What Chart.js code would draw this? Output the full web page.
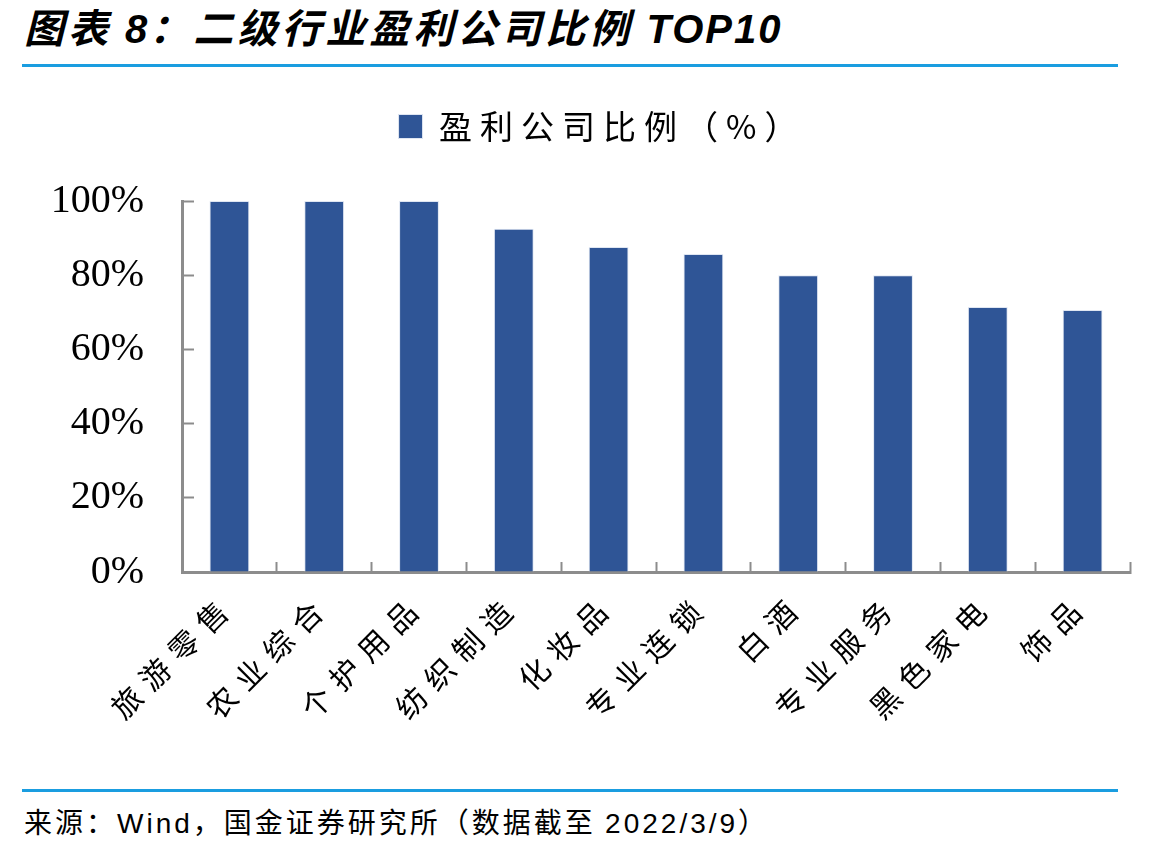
<!DOCTYPE html>
<html>
<head>
<meta charset="utf-8">
<script src="https://cdn.jsdelivr.net/npm/chart.js@4.4.1/dist/chart.umd.min.js"></script>
<style>
  body { margin: 0; background: #fff; width: 1169px; height: 850px; position: relative; overflow: hidden; }
  #title { position: absolute; left: 24px; top: -3px; font: italic bold 40px 'Noto Sans CJK SC', 'Liberation Sans', sans-serif; letter-spacing: 4px; color: #000; white-space: nowrap; }
  #title .en { font-family: 'Liberation Sans', Arial, sans-serif; letter-spacing: 2px; }
  .rule { position: absolute; left: 22px; width: 1096px; height: 3px; background: #1a9de0; }
  #source { position: absolute; left: 24px; top: 801px; font: 28px 'Noto Sans CJK SC', sans-serif; letter-spacing: 3px; color: #000; white-space: nowrap; }
  #source .en { font-family: 'Liberation Sans', Arial, sans-serif; }
  #wrap { position: absolute; left: 0; top: 90px; width: 1169px; height: 700px; }
</style>
</head>
<body>
<div id="title">图表 <span class="en">8</span>：二级行业盈利公司比例 <span class="en">TOP10</span></div>
<div class="rule" style="top:64px"></div>
<div id="wrap"><canvas id="grafico"></canvas></div>
<div class="rule" style="top:789px"></div>
<div id="source">来源：<span class="en">Wind</span>，国金证券研究所（数据截至 <span class="en">2022/3/9</span>）</div>
<script>
// categorias y valores
var industrias = ['旅游零售', '农业综合', '个护用品', '纺织制造', '化妆品', '专业连锁', '白酒', '专业服务', '黑色家电', '饰品'];
var ratio = [100, 100, 100, 92.5, 87.6, 85.7, 80, 80, 71.4, 70.6];
var serieNombre = '盈利公司比例（%）';
var yTicks = [0, 20, 40, 60, 80, 100];

var ejeColor = '#8c8c8c';
var barColor = '#2f5596';

// letter spacing only for the x labels (drawn after the bars, z: 1)
var espaciado = {
    id: 'espaciado',
    afterDatasetsDraw: function (chart) { chart.ctx.letterSpacing = '10px'; },
    afterDraw: function (chart) { chart.ctx.letterSpacing = '0px'; }
};

// legend: fixed height so the plot starts lower, spaced text, nudged right
var legendaAlto = {
    id: 'legendaAlto',
    beforeInit: function (chart) {
        var leg = chart.legend;
        var fitOrig = leg.fit;
        var drawOrig = leg.draw;
        leg.fit = function () {
            this.ctx.letterSpacing = '8px';
            fitOrig.bind(leg)();
            this.ctx.letterSpacing = '0px';
            this.height = 101;
        };
        leg.draw = function () {
            var ctx = this.ctx;
            ctx.save();
            ctx.translate(37, 0);
            ctx.letterSpacing = '8px';
            drawOrig.bind(leg)();
            ctx.restore();
            ctx.letterSpacing = '0px';
        };
    }
};

var mostrar = document.getElementById('grafico');
var grafico = new Chart(mostrar, {
    type: 'bar',
    data: {
        labels: industrias,
        datasets: [{
            label: serieNombre,
            data: ratio,
            backgroundColor: barColor,
            borderColor: '#dfe6f2',
            borderWidth: 1,
            barPercentage: 0.84,
            categoryPercentage: 0.5
        }]
    },
    options: {
        responsive: true,
        maintainAspectRatio: false,
        animation: false,
        layout: { padding: { top: 10, right: 39, left: 0, bottom: 0 } },
        plugins: {
            legend: {
                display: true,
                position: 'top',
                labels: {
                    boxWidth: 24,
                    boxHeight: 24,
                    padding: 10,
                    color: '#000',
                    font: { family: "'Noto Sans CJK SC'", size: 33 }
                }
            },
            tooltip: { enabled: false }
        },
        scales: {
            x: {
                offset: true,
                grid: {
                    offset: true,
                    drawOnChartArea: false,
                    drawTicks: true,
                    tickLength: -10,
                    tickWidth: 2,
                    color: ejeColor
                },
                border: { display: true, color: ejeColor, width: 3 },
                ticks: {
                    z: 1,
                    autoSkip: false,
                    minRotation: 45,
                    maxRotation: 45,
                    padding: 25,
                    color: '#000',
                    font: { family: "'Noto Sans CJK SC'", size: 30 }
                },
                afterFit: function (scale) { scale.height = 218; }
            },
            y: {
                min: 0,
                max: 100,
                afterBuildTicks: function (scale) {
                    scale.ticks = yTicks.map(function (v) { return { value: v }; });
                },
                grid: {
                    drawOnChartArea: false,
                    drawTicks: true,
                    tickLength: -12,
                    tickWidth: 2,
                    color: ejeColor
                },
                border: { display: true, color: ejeColor, width: 3 },
                ticks: {
                    padding: 50,
                    color: '#000',
                    font: { family: "'Liberation Serif', 'Times New Roman', serif", size: 40 },
                    callback: function (value) { return value + '%'; }
                },
                afterFit: function (scale) { scale.width = 182; }
            }
        }
    },
    plugins: [espaciado, legendaAlto]
});
</script>
</body>
</html>
